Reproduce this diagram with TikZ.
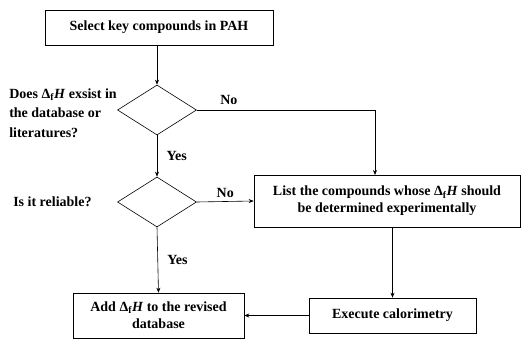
\documentclass[tikz,border=0pt]{standalone}
\usepackage{fontspec}
\setmainfont{Liberation Serif}
\usetikzlibrary{shapes.geometric,arrows.meta}
\begin{document}
\begin{tikzpicture}[x=1pt, y=-1pt, font=\bfseries\fontsize{14}{19.5}\selectfont,
  box/.style={draw, rectangle, align=center, inner sep=2pt, font=\bfseries\fontsize{14}{17}\selectfont},
  ask/.style={draw, diamond, minimum width=79pt, minimum height=50pt, inner sep=0pt},
  >={Stealth[length=5pt, width=4pt]}, line width=0.6pt]
\useasboundingbox (0,0) rectangle (522,339);
\node[box, minimum width=228pt, minimum height=35pt] (a) at (159,27.5) {Select key compounds in PAH};
\node[ask] (b) at (157,110) {};
\node[ask] (c) at (157,202) {};
\node[box, minimum width=266pt, minimum height=52pt] (d) at (387,201) {List the compounds whose Δ\textsubscript{f}\textit{H} should\\be determined experimentally};
\node[box, minimum width=167pt, minimum height=35pt] (e) at (392.5,315.5) {Execute calorimetry};
\node[box, minimum width=171pt, minimum height=45pt] (f) at (158.5,315.5) {Add Δ\textsubscript{f}\textit{H} to the revised\\database};
\node[anchor=west, align=left, inner sep=0pt] (q1) at (9,113) {Does Δ\textsubscript{f}\textit{H} exsist in\\the database or\\literatures?};
\node[anchor=west, inner sep=0pt] (q2) at (13,202) {Is it reliable?};
\coordinate (t) at (375,175);
\draw[->] (a.south -| b.north) -- (b.north);
\draw[->] (b.east) -| (t) node[pos=0.09, above=2pt] {No};
\draw[->] (b.south) -- (c.north) node[midway, right=6pt] {Yes};
\draw[->] (c.east) -- (d.west) node[midway, above] {No};
\draw[->] (c.south) -- (f.north) node[midway, right=6pt] {Yes};
\draw[->] (e.north |- d.south) -- (e.north);
\draw[->] (e.west) -- (f.east);
\end{tikzpicture}
\end{document}
